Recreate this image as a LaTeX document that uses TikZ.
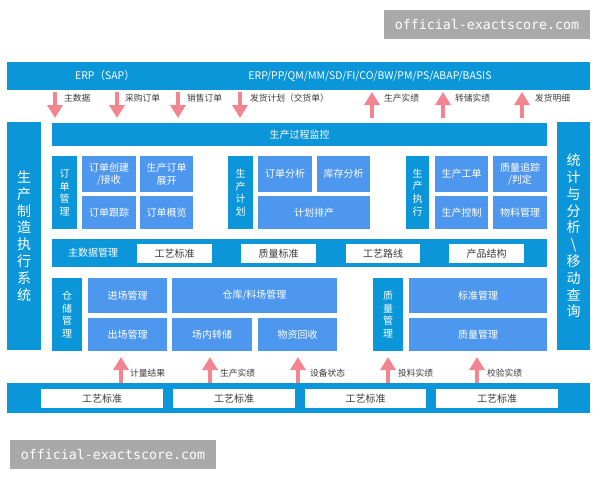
\documentclass[tikz,border=0pt]{standalone}
\usepackage{fontspec}
\setmainfont{Noto Sans CJK SC}
\newfontfamily\wmfont{DejaVu Sans Mono}
\usetikzlibrary{arrows.meta,calc}
\definecolor{dblue}{HTML}{0A96D8}
\definecolor{lblue}{HTML}{4E97EE}
\definecolor{apink}{HTML}{F2858F}
\definecolor{ltext}{HTML}{3A3A3A}
\definecolor{wmgray}{HTML}{A9A9A9}
\newcommand\mybox[7]{\node[#2, minimum width={(#5-#3)*1pt}, minimum height={(#6-#4)*1pt}, anchor=north west] (#1) at (#3,-#4) {#7};}
\tikzset{
  base/.style={inner sep=0pt, outer sep=0pt, align=center},
  dbar/.style={base, fill=dblue, text=white, font=\fontsize{10}{11.5}\selectfont},
  vsmall/.style={base, fill=dblue, text=white, font=\fontsize{10}{12.6}\selectfont},
  vbig/.style={base, fill=dblue, text=white, font=\fontsize{14}{16.8}\selectfont},
  lbox/.style={base, fill=lblue, text=white, font=\fontsize{10}{12.5}\selectfont},
  wbox/.style={base, fill=white, text=ltext, font=\fontsize{10}{11.5}\selectfont},
  wtext/.style={inner sep=0pt, text=white, font=\fontsize{10}{11.5}\selectfont},
  erptext/.style={inner sep=0pt, text=white, font=\fontsize{10.5}{12}\selectfont},
  lbl/.style={inner sep=0pt, anchor=west, text=ltext, font=\fontsize{8.75}{10}\selectfont},
  parr/.style={draw=apink, line width=4pt, -{Triangle[width=15pt,length=13pt,fill=apink]}},
  wmark/.style={fill=wmgray, text=white, inner sep=0pt, minimum width=206pt, minimum height=29pt, font=\wmfont\fontsize{13.3}{15}\selectfont}
}
\begin{document}
\begin{tikzpicture}[x=1pt,y=1pt]
\fill[white] (0,0) rectangle (600,-480);
\useasboundingbox (0,0) rectangle (600,-480);
% watermarks
\node[wmark] (wm1) at (487,-24.5) {official-exactscore.com};
\node[wmark] (wm2) at (113,-454.5) {official-exactscore.com};
% top ERP bar
\mybox{erp}{dbar}{7}{62}{590}{90}{}
\node[erptext] (erp1) at (105,-76) {ERP（SAP）};
\node[erptext] (erp2) at (370,-76) {ERP/PP/QM/MM/SD/FI/CO/BW/PM/PS/ABAP/BASIS};
% side bars
\mybox{lsys}{vbig}{7}{122}{41}{350}{生\\产\\制\\造\\执\\行\\系\\统}
\mybox{rsys}{vbig}{557}{122}{590}{350}{统\\计\\与\\分\\析\\\textbackslash\\移\\动\\查\\询}
% monitor bar
\mybox{mon}{dbar}{52}{123}{547}{146}{生产过程监控}
% order management
\mybox{om}{vsmall}{52}{156}{77}{229}{订\\单\\管\\理}
\mybox{om1}{lbox}{82}{156}{136}{192}{订单创建\\/接收}
\mybox{om2}{lbox}{140}{156}{193}{192}{生产订单\\展开}
\mybox{om3}{lbox}{82}{196}{136}{229}{订单跟踪}
\mybox{om4}{lbox}{140}{196}{193}{229}{订单概览}
% production planning
\mybox{pp}{vsmall}{228}{156}{253}{229}{生\\产\\计\\划}
\mybox{pp1}{lbox}{258}{156}{312}{192}{订单分析}
\mybox{pp2}{lbox}{317}{156}{370}{192}{库存分析}
\mybox{pp3}{lbox}{258}{196}{370}{229}{计划排产}
% production execution
\mybox{pe}{vsmall}{406}{156}{429}{229}{生\\产\\执\\行}
\mybox{pe1}{lbox}{435}{156}{488}{192}{生产工单}
\mybox{pe2}{lbox}{493}{156}{547}{192}{质量追踪\\/判定}
\mybox{pe3}{lbox}{435}{196}{488}{229}{生产控制}
\mybox{pe4}{lbox}{493}{196}{547}{229}{物料管理}
% master data bar
\mybox{md}{dbar}{52}{239}{547}{267}{}
\node[wtext] (mdt) at (93,-253) {主数据管理};
\mybox{md1}{wbox}{137}{244}{212}{263}{工艺标准}
\mybox{md2}{wbox}{241}{244}{316}{263}{质量标准}
\mybox{md3}{wbox}{346}{244}{420}{263}{工艺路线}
\mybox{md4}{wbox}{449}{244}{524}{263}{产品结构}
% warehouse
\mybox{wh}{vsmall}{52}{278}{82}{351}{仓\\储\\管\\理}
\mybox{wh1}{lbox}{88}{278}{167}{313}{进场管理}
\mybox{wh2}{lbox}{88}{318}{167}{351}{出场管理}
\mybox{wh3}{lbox}{172}{278}{337}{313}{仓库/料场管理}
\mybox{wh4}{lbox}{172}{318}{252}{351}{场内转储}
\mybox{wh5}{lbox}{258}{318}{337}{351}{物资回收}
% quality
\mybox{qm}{vsmall}{373}{278}{403}{351}{质\\量\\管\\理}
\mybox{qm1}{lbox}{409}{278}{547}{313}{标准管理}
\mybox{qm2}{lbox}{409}{318}{547}{351}{质量管理}
% bottom bar
\mybox{bot}{dbar}{7}{383}{590}{413}{}
\mybox{b1}{wbox}{41}{389}{163}{408}{工艺标准}
\mybox{b2}{wbox}{173}{389}{295}{408}{工艺标准}
\mybox{b3}{wbox}{305}{389}{426}{408}{工艺标准}
\mybox{b4}{wbox}{436}{389}{558}{408}{工艺标准}
% arrow columns
\foreach \n/\x in {d1/55,d2/117,d3/178,d4/240,u1/372,u2/443,u3/522,c1/121,c2/210,c3/298,c4/388,c5/477}
  \coordinate (\n) at (\x,0);
% down arrows ERP -> monitor
\foreach \n in {d1,d2,d3,d4}
  \draw[parr, shorten <=2pt, shorten >=5pt] (erp.south -| \n) -- (mon.north -| \n);
% up arrows monitor -> ERP
\foreach \n in {u1,u2,u3}
  \draw[parr, shorten <=5pt, shorten >=2pt] (mon.north -| \n) -- (erp.south -| \n);
% bottom up arrows
\draw[parr, shorten >=6pt] (bot.north -| c1) -- (wh2.south -| c1);
\draw[parr, shorten >=6pt] (bot.north -| c2) -- (wh4.south -| c2);
\draw[parr, shorten >=6pt] (bot.north -| c3) -- (wh5.south -| c3);
\draw[parr, shorten >=6pt] (bot.north -| c4) -- (qm.south -| c4);
\draw[parr, shorten >=6pt] (bot.north -| c5) -- (qm2.south -| c5);
% labels top
\node[lbl] (l1) at (64,-98) {主数据};
\node[lbl] (l2) at (125,-98) {采购订单};
\node[lbl] (l3) at (187,-98) {销售订单};
\node[lbl] (l4) at (250,-98) {发货计划（交货单）};
\node[lbl] (l5) at (384,-98) {生产实绩};
\node[lbl] (l6) at (455,-98) {转储实绩};
\node[lbl] (l7) at (535,-98) {发货明细};
% labels bottom
\node[lbl] (m1) at (130,-373) {计量结果};
\node[lbl] (m2) at (220,-373) {生产实绩};
\node[lbl] (m3) at (310,-373) {设备状态};
\node[lbl] (m4) at (398,-373) {投料实绩};
\node[lbl] (m5) at (487,-373) {校验实绩};
\end{tikzpicture}
\end{document}
